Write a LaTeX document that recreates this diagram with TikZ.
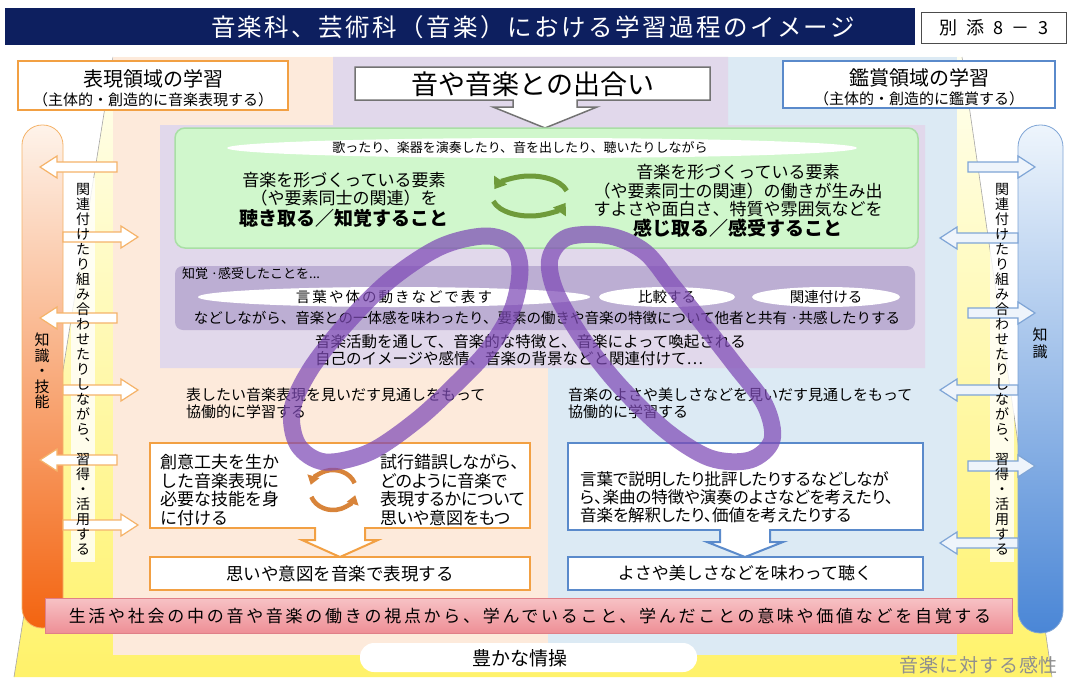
\documentclass[tikz,border=0pt]{standalone}
\usepackage{fontspec}
\setmainfont{Noto Sans CJK JP}
\newfontfamily\jpp[RawFeature=+palt]{Noto Sans CJK JP}
\usetikzlibrary{shapes.geometric,calc,arrows.meta}
\newcommand\fsz[2]{\fontsize{#1pt}{#2pt}\selectfont}
\definecolor{navy}{HTML}{0D1F5F}
\definecolor{peach}{HTML}{FDEADB}
\definecolor{lav}{HTML}{E1D8EB}
\definecolor{lblue}{HTML}{DCEAF4}
\definecolor{ytop}{HTML}{FFFFF0}
\definecolor{ybot}{HTML}{FFF26A}
\definecolor{gfill}{HTML}{D0F7CC}
\definecolor{gline}{HTML}{A9DFA5}
\definecolor{pband}{HTML}{BCAED3}
\definecolor{ora}{HTML}{F2A043}
\definecolor{oarrow}{HTML}{D8843A}
\definecolor{blu}{HTML}{5A8ACB}
\definecolor{barr}{HTML}{7FA5D6}
\definecolor{bfill}{HTML}{EEF4FB}
\definecolor{pinkt}{HTML}{F7C2C5}
\definecolor{pinkb}{HTML}{EE8F96}
\definecolor{pinkd}{HTML}{E07F88}
\definecolor{rib}{HTML}{7E4AB6}
\definecolor{garrow}{HTML}{6F9B3B}
\definecolor{lpt}{HTML}{FEF3EA}
\definecolor{lpm}{HTML}{FBC49A}
\definecolor{lpb}{HTML}{F36410}
\definecolor{rpt}{HTML}{EEF5FC}
\definecolor{rpm}{HTML}{BFD8F0}
\definecolor{rpb}{HTML}{4A86D6}
\definecolor{senst}{HTML}{8F8F8F}
% left-pointing block arrow: tip x, tail x, y, fill, draw
\newcommand\arrL[5]{\draw[#5, line width=1.2, fill=#4] (#1,#3) -- (#1+17,#3-11) -- (#1+17,#3-5) -- (#2,#3-5) -- (#2,#3+5) -- (#1+17,#3+5) -- (#1+17,#3+11) -- cycle;}
\newcommand\arrR[5]{\draw[#5, line width=1.2, fill=#4] (#1,#3) -- (#1-17,#3-11) -- (#1-17,#3-5) -- (#2,#3-5) -- (#2,#3+5) -- (#1-17,#3+5) -- (#1-17,#3+11) -- cycle;}
\begin{document}
\begin{tikzpicture}[x=1pt,y=-1pt,
  every node/.style={inner sep=0pt, outer sep=0pt},
  vtext/.style={align=center, font={\fsz{14}{15}}},
  ribbon/.style={rib, line width=17, opacity=0.72, line join=round},
  ellw/.style={ellipse, fill=white, inner sep=0pt}]
\useasboundingbox (0,0) rectangle (1070,677);
\fill[white] (0,0) rectangle (1070,677);
% title bar
\node[fill=navy, minimum width=910, minimum height=37, anchor=north west] (tbar) at (5,8) {};
\node[text=white, font={\fsz{24.5}{28}\addfontfeatures{LetterSpace=10}}] (ttl) at (533,27) {音楽科、芸術科（音楽）における学習過程のイメージ};
\node[draw=black!70, line width=0.8, fill=white, minimum width=145, minimum height=31, anchor=north west] (bet) at (921,12) {};
\node[font={\fsz{18}{20}\addfontfeatures{LetterSpace=25}}] (bettxt) at (994,27.5) {別 添 8 － 3};
% yellow fan
\shade[top color=ytop, bottom color=ybot] (113,57) -- (962,57) -- (1052,677) -- (14,677) -- cycle;
\draw[black!35, line width=0.6] (113,57) -- (14,677);
\draw[black!35, line width=0.6] (962,57) -- (1052,677);
% columns
\fill[peach] (113,57) rectangle (548,655);
\fill[lblue] (548,57) rectangle (957,655);
\fill[lav] (333,57) -- (728,57) -- (728,125) -- (925,125) -- (925,368) -- (160,368) -- (160,125) -- (333,125) -- cycle;
% pillars
\shade[top color=lpt, middle color=lpm, bottom color=lpb, draw=ora!80, line width=0.8, rounded corners=20] (22,628) -- (22,125) -- (63,125) -- (63,628) -- cycle;
\shade[top color=rpt, middle color=rpm, bottom color=rpb, draw=barr, line width=0.8, rounded corners=22] (1018,633) -- (1018,125) -- (1063,125) -- (1063,633) -- cycle;
% white strips for vertical text
\fill[white, opacity=0.8] (71,178) rectangle (95,562);
\fill[white, opacity=0.8] (990,178) rectangle (1014,562);
% side block arrows
\arrL{40}{117}{167}{white}{ora!80}
\arrR{138}{63}{237}{white}{ora!80}
\arrL{40}{117}{318}{white}{ora!80}
\arrR{138}{63}{390}{white}{ora!80}
\arrL{40}{117}{460}{white}{ora!80}
\arrR{138}{63}{525}{white}{ora!80}
\arrR{1035}{968}{167}{bfill}{barr}
\arrL{940}{1018}{238}{bfill}{barr}
\arrR{1035}{968}{313}{bfill}{barr}
\arrL{940}{1018}{390}{bfill}{barr}
\arrR{1035}{968}{466}{bfill}{barr}
\arrL{940}{1018}{543}{bfill}{barr}
% vertical texts
\node[vtext] (vl) at (83,369) {関\\連\\付\\け\\た\\り\\組\\み\\合\\わ\\せ\\た\\り\\し\\な\\が\\ら\\︑\\習\\得\\・\\活\\用\\す\\る};
\node[vtext] (vr) at (1002,369) {関\\連\\付\\け\\た\\り\\組\\み\\合\\わ\\せ\\た\\り\\し\\な\\が\\ら\\︑\\習\\得\\・\\活\\用\\す\\る};
\node[align=center, font={\fsz{15}{15.5}}] (chl) at (42,371) {知\\識\\・\\技\\能};
\node[align=center, font={\fsz{15}{17}}] (chr) at (1040,343) {知\\識};
% top boxes
\node[draw=ora, line width=2.5, fill=white, minimum width=270, minimum height=49] (hyo) at (153,85.5) {};
\node[font={\fsz{20}{22}}] (hyo1) at (153,79) {表現領域の学習};
\node[font={\fsz{15}{17}}] (hyo2) at (153,100) {（主体的・創造的に音楽表現する）};
\node[draw=blu, line width=2.5, fill=white, minimum width=272, minimum height=47] (kan) at (919,84.5) {};
\node[font={\fsz{20}{22}}] (kan1) at (919,78) {鑑賞領域の学習};
\node[font={\fsz{15}{17}}] (kan2) at (919,99) {（主体的・創造的に鑑賞する）};
% middle callout
\draw[black!55, line width=1.5, fill=white] (355,67) -- (710,67) -- (710,100) -- (577,100) -- (577,107) -- (597,107) -- (545,128) -- (493,107) -- (513,107) -- (513,100) -- (355,100) -- cycle;
\node[font={\fsz{27}{30}}] (deai) at (533,84) {音や音楽との出合い};
% green box
\node[draw=gline, line width=1.5, fill=gfill, rounded corners=10, minimum width=743, minimum height=120] (green) at (546.5,188) {};
\node[ellw, minimum width=630, minimum height=20] (lens) at (542,148) {};
\node[font={\fsz{13}{15}}] (lenstxt) at (520,148) {歌ったり、楽器を演奏したり、音を出したり、聴いたりしながら};
\node[align=center, font={\fsz{17}{18.5}}] (gl) at (344,189) {音楽を形づくっている要素\\（や要素同士の関連）を};
\node[font={\fsz{19}{21}\bfseries}] (glb) at (344,218) {聴き取る／知覚すること};
\node[align=center, font={\fsz{17}{18.5}}] (gr) at (738,191) {音楽を形づくっている要素\\（や要素同士の関連）の働きが生み出\\すよさや面白さ、特質や雰囲気などを};
\node[font={\fsz{19}{21}\bfseries}] (grb) at (738,228) {感じ取る／感受すること};
\coordinate (gc) at (530,196);
\draw[garrow, line width=5, -{Triangle[length=11pt,width=15pt]}] ($(gc)+(-15:38 and 20)$) arc[start angle=-15, end angle=-160, x radius=38, y radius=20];
\draw[garrow, line width=5, -{Triangle[length=11pt,width=15pt]}] ($(gc)+(165:38 and 20)$) arc[start angle=165, end angle=20, x radius=38, y radius=20];
% purple band
\node[fill=pband, rounded corners=8, minimum width=740, minimum height=64] (band) at (545,298) {};
\node[anchor=west, font={\fsz{13}{15}}] (chikaku) at (182,274) {知覚 ·感受したことを...};
\node[ellw, minimum width=392, minimum height=20] (e1) at (394,297) {};
\node[ellw, minimum width=136, minimum height=20] (e2) at (667,297) {};
\node[ellw, minimum width=148, minimum height=20] (e3) at (826,297) {};
\node[font={\fsz{14.5}{16}\addfontfeatures{LetterSpace=14}}] (e1t) at (e1.center) {言葉や体の動きなどで表す};
\node[font={\fsz{14.5}{16}}] (e2t) at (e2.center) {比較する};
\node[font={\fsz{14.5}{16}}] (e3t) at (e3.center) {関連付ける};
\node[font={\fsz{14.5}{16}}] (band2) at (547,318) {などしながら、音楽との一体感を味わったり、要素の働きや音楽の特徴について他者と共有 ·共感したりする};
\node[anchor=west, align=left, font={\fsz{15.5}{16.5}}] (kanki) at (315,350) {音楽活動を通して、音楽的な特徴と、音楽によって喚起される\\自己のイメージや感情、音楽の背景などと関連付けて…};
% lower left
\node[anchor=west, align=left, font={\fsz{15}{17}}] (mil) at (186,403) {表したい音楽表現を見いだす見通しをもって\\協働的に学習する};
\node[draw=ora, line width=2, fill=white, minimum width=380, minimum height=85] (obox) at (340,485.5) {};
\node[anchor=west, align=left, font={\fsz{17}{18.7}}] (otl) at (160,490) {創意工夫を生か\\した音楽表現に\\必要な技能を身\\に付ける};
\node[anchor=west, align=left, font={\jpp\fsz{17}{18.7}}] (otr) at (380,490) {試行錯誤しながら、\\どのように音楽で\\表現するかについて\\思いや意図をもつ};
\coordinate (oc) at (333,490);
\draw[oarrow, line width=4.5, -{Triangle[length=9pt,width=12pt]}] ($(oc)+(-20:23 and 20)$) arc[start angle=-20, end angle=-165, x radius=23, y radius=20];
\draw[oarrow, line width=4.5, -{Triangle[length=9pt,width=12pt]}] ($(oc)+(160:23 and 20)$) arc[start angle=160, end angle=15, x radius=23, y radius=20];
\node[draw=ora, line width=2, fill=white, minimum width=380, minimum height=33] (obox2) at (340,573.5) {};
\node[font={\fsz{17.5}{19}}] (obt) at (obox2.center) {思いや意図を音楽で表現する};
\draw[ora, line width=2, fill=white] ($(obox.south)+(-25,-1)$) -- ($(obox.south)+(-25,12)$) -- ($(obox.south)+(-38,12)$) -- (obox2.north) -- ($(obox.south)+(38,12)$) -- ($(obox.south)+(25,12)$) -- ($(obox.south)+(25,-1)$);
% lower right
\node[anchor=west, align=left, font={\fsz{15}{17}}] (mir) at (568,403) {音楽のよさや美しさなどを見いだす見通しをもって\\協働的に学習する};
\node[draw=blu, line width=2, fill=white, minimum width=355, minimum height=87] (bbox) at (745,486.5) {};
\node[anchor=west, align=left, font={\jpp\fsz{16.5}{18}}] (btx) at (580,497) {言葉で説明したり批評したりするなどしなが\\ら、楽曲の特徴や演奏のよさなどを考えたり、\\音楽を解釈したり、価値を考えたりする};
\node[draw=blu, line width=2, fill=white, minimum width=355, minimum height=33] (bbox2) at (745,573.5) {};
\node[font={\fsz{17}{19}}] (bbt) at (bbox2.center) {よさや美しさなどを味わって聴く};
\draw[blu, line width=2, fill=white] ($(bbox.south)+(-25,-1)$) -- ($(bbox.south)+(-25,12)$) -- ($(bbox.south)+(-38,12)$) -- (bbox2.north) -- ($(bbox.south)+(38,12)$) -- ($(bbox.south)+(25,12)$) -- ($(bbox.south)+(25,-1)$);
% pink bar
\node[draw=pinkd, line width=1, top color=pinkt, bottom color=pinkb, minimum width=967, minimum height=35] (pink) at (528.5,615.5) {};
\node[font={\fsz{17}{20}\addfontfeatures{LetterSpace=16}}] (pinktxt) at (530,616) {生活や社会の中の音や音楽の働きの視点から、学んでいること、学んだことの意味や価値などを自覚する};
% bottom
\node[fill=white, rounded corners=14, minimum width=337, minimum height=29] (jos) at (528.5,657.5) {};
\node[font={\fsz{19}{21}}] (jostxt) at (520,658) {豊かな情操};
\node[anchor=east, text=senst, font={\fsz{19}{21}\addfontfeatures{LetterSpace=5}}] (kansei) at (1058,665) {音楽に対する感性};
% ribbons
\draw[ribbon] plot[smooth cycle, tension=0.55] coordinates {(457,383) (417,420) (370,452) (325,462) (298,445) (292,410) (310,370) (345,325) (390,280) (440,247) (485,236) (512,245) (520,270) (512,310) (488,350)};
\draw[ribbon] plot[smooth cycle, tension=0.55] coordinates {(617,383) (665,430) (710,458) (750,460) (772,440) (765,405) (735,365) (700,320) (672,285) (645,252) (610,236) (568,237) (550,258) (555,290) (580,335)};
\end{tikzpicture}
\end{document}
